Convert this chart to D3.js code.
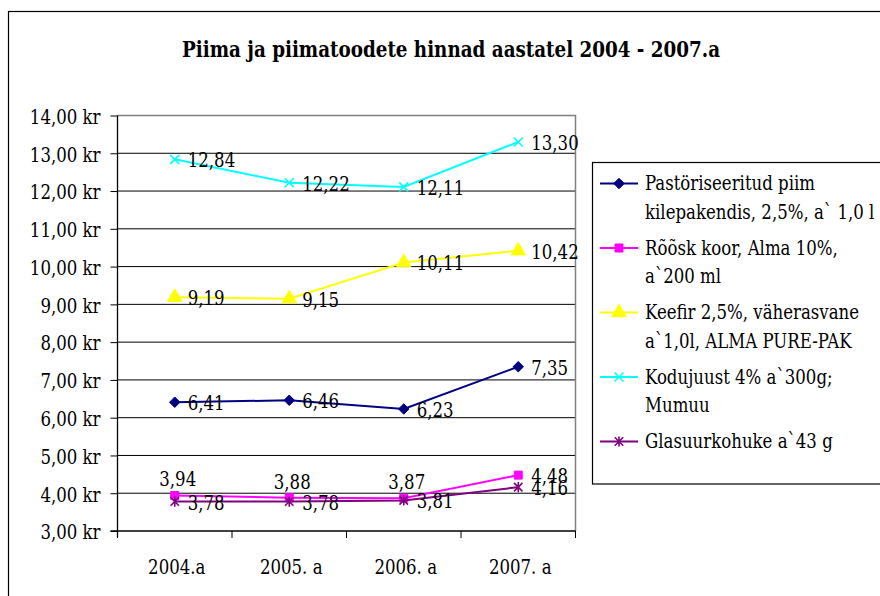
<!DOCTYPE html>
<html>
<head>
<meta charset="utf-8">
<script src="https://cdn.jsdelivr.net/npm/d3@7"></script>
<style>
  body { margin: 0; background: #fff; }
  svg { display: block; }
  svg text { font-family: "DejaVu Serif Condensed", "DejaVu Serif", serif; fill: #000; }
</style>
</head>
<body>
<div id="chart"></div>
<script>
// chart data
var years = ['2004.a', '2005. a', '2006. a', '2007. a'];
var yTicks = [3, 4, 5, 6, 7, 8, 9, 10, 11, 12, 13, 14];

var piim      = [6.41, 6.46, 6.23, 7.35];
var koor      = [3.94, 3.88, 3.87, 4.48];
var keefir    = [9.19, 9.15, 10.11, 10.42];
var kodujuust = [12.84, 12.22, 12.11, 13.30];
var kohuke    = [3.78, 3.78, 3.81, 4.16];

var seriesNames = [
  ['Pastöriseeritud piim', 'kilepakendis, 2,5%, a` 1,0 l'],
  ['Rõõsk koor, Alma 10%,', 'a`200 ml'],
  ['Keefir 2,5%, väherasvane', 'a`1,0l, ALMA PURE-PAK'],
  ['Kodujuust 4% a`300g;', 'Mumuu'],
  ['Glasuurkohuke a`43 g']
];
var seriesValues = [piim, koor, keefir, kodujuust, kohuke];
var seriesColors = ['#000080', '#FF00FF', '#FFFF00', '#00FFFF', '#800080'];
var seriesMarkers = ['diamond', 'square', 'triangle', 'x', 'star'];
// where excel put each data label
var labelPos = [
  ['right', 'right', 'right', 'right'],
  ['top', 'top', 'top', 'right'],
  ['right', 'right', 'right', 'right'],
  ['right', 'right', 'right', 'right'],
  ['right', 'right', 'right', 'right']
];

var W = 880, H = 596, FS = 21;
var plotLeft = 117.5, plotRight = 575.5, plotTop = 115.5, plotBottom = 531;

var svg = d3.select('#chart').append('svg:svg')
    .attr('width', W).attr('height', H);

// the original uses Times; squeeze the available serif to its width
var probe = svg.append('text').attr('font-size', FS).text('Pastöriseeritud piim');
var squeeze = 170 / probe.node().getComputedTextLength();
probe.remove();
var fit = function(t) {
  var n = t.node();
  t.attr('textLength', n.getComputedTextLength() * squeeze)
   .attr('lengthAdjust', 'spacingAndGlyphs');
};

// outer chart frame (right and bottom run off the picture)
svg.append('rect').attr('x', 8.5).attr('y', 11.5)
    .attr('width', 1000).attr('height', 1000)
    .attr('fill', '#fff').attr('stroke', '#000').attr('stroke-width', 1.2);

svg.append('text').attr('x', 451).attr('y', 57)
    .attr('text-anchor', 'middle')
    .attr('font-size', 23).attr('font-weight', 'bold')
    .attr('textLength', 538).attr('lengthAdjust', 'spacingAndGlyphs')
    .text('Piima ja piimatoodete hinnad aastatel 2004 - 2007.a');

var y = d3.scaleLinear().domain([3, 14]).range([plotBottom, plotTop]);
var x = d3.scaleBand().domain(years).range([plotLeft, plotRight]);
var xc = function(d) { return x(d) + x.bandwidth() / 2; };

// gridlines
svg.append('g').selectAll('line').data(yTicks.slice(1, -1)).enter()
    .append('line')
    .attr('x1', plotLeft).attr('x2', plotRight)
    .attr('y1', function(d) { return y(d); }).attr('y2', function(d) { return y(d); })
    .attr('stroke', '#000').attr('stroke-width', 1);

// plot area top and right border
svg.append('path')
    .attr('d', 'M' + plotLeft + ',' + plotTop + 'H' + plotRight + 'V' + plotBottom)
    .attr('fill', 'none').attr('stroke', '#808080').attr('stroke-width', 1.5);

// y axis
var yAxis = d3.axisLeft(y).tickValues(yTicks).tickSize(7).tickPadding(10)
    .tickFormat(function(d) { return d.toFixed(2).replace('.', ',') + ' kr'; });
var gy = svg.append('g').attr('transform', 'translate(' + plotLeft + ',0)').call(yAxis);
gy.select('.domain').attr('d', 'M0,' + plotTop + 'V' + (plotBottom + 6)).attr('stroke', '#000').attr('stroke-width', 1.3);
gy.selectAll('.tick line').attr('stroke', '#000');
gy.selectAll('.tick text').attr('font-size', FS).attr('dy', '0.37em')
    .each(function() { fit(d3.select(this)); });

// x axis: ticks between categories, labels centered
var gx = svg.append('g');
gx.append('line').attr('x1', plotLeft - 7).attr('x2', plotRight)
    .attr('y1', plotBottom).attr('y2', plotBottom)
    .attr('stroke', '#000').attr('stroke-width', 1.3);
var bounds = years.map(function(d) { return x(d); }).concat([plotRight]);
gx.selectAll('line.tk').data(bounds).enter().append('line').attr('class', 'tk')
    .attr('x1', function(d) { return d; }).attr('x2', function(d) { return d; })
    .attr('y1', plotBottom).attr('y2', plotBottom + 7)
    .attr('stroke', '#000');
gx.selectAll('text').data(years).enter().append('text')
    .attr('x', function(d) { return xc(d) + 2; }).attr('y', plotBottom + 43)
    .attr('text-anchor', 'middle').attr('font-size', FS)
    .text(function(d) { return d; })
    .each(function() { fit(d3.select(this)); });

// marker shapes
var starType = {
  draw: function(ctx, size) {
    var r = Math.sqrt(size) / 2;
    ctx.moveTo(-r, -r); ctx.lineTo(r, r);
    ctx.moveTo(r, -r); ctx.lineTo(-r, r);
    ctx.moveTo(0, -r * 1.2); ctx.lineTo(0, r * 1.2);
  }
};
var xType = {
  draw: function(ctx, size) {
    var r = Math.sqrt(size) / 2;
    ctx.moveTo(-r, -r); ctx.lineTo(r, r);
    ctx.moveTo(r, -r); ctx.lineTo(-r, r);
  }
};
var diamondType = {
  draw: function(ctx, size) {
    var r = Math.sqrt(size) / 2;
    ctx.moveTo(0, -r); ctx.lineTo(r, 0); ctx.lineTo(0, r); ctx.lineTo(-r, 0);
    ctx.closePath();
  }
};
var markerPath = function(kind) {
  if (kind == 'diamond') return d3.symbol(diamondType, 110)();
  if (kind == 'square') return d3.symbol(d3.symbolSquare, 64)();
  if (kind == 'triangle') return d3.symbol(d3.symbolTriangle, 90)();
  if (kind == 'x') return d3.symbol(xType, 81)();
  return d3.symbol(starType, 72)();
};
var drawMarker = function(g, kind, color, cx, cy) {
  var filled = (kind == 'diamond' || kind == 'square' || kind == 'triangle');
  g.append('path').attr('d', markerPath(kind))
      .attr('transform', 'translate(' + cx + ',' + cy + ')')
      .attr('fill', filled ? color : 'none')
      .attr('stroke', color).attr('stroke-width', filled ? 1 : 1.6);
};

// series lines and markers
var line = d3.line()
    .x(function(d, i) { return xc(years[i]); })
    .y(function(d) { return y(d); });

seriesValues.forEach(function(vals, s) {
  var g = svg.append('g');
  g.append('path').datum(vals).attr('d', line)
      .attr('fill', 'none').attr('stroke', seriesColors[s]).attr('stroke-width', 2);
  vals.forEach(function(v, i) {
    drawMarker(g, seriesMarkers[s], seriesColors[s], xc(years[i]), y(v));
  });
});

// data labels
seriesValues.forEach(function(vals, s) {
  vals.forEach(function(v, i) {
    var px = xc(years[i]), py = y(v);
    var t = svg.append('text').attr('font-size', FS)
        .text(v.toFixed(2).replace('.', ','));
    if (labelPos[s][i] == 'top') {
      t.attr('x', px + 3).attr('y', py - 9).attr('text-anchor', 'middle');
    } else {
      t.attr('x', px + 13).attr('y', py + 8);
    }
    fit(t);
  });
});

// legend
var lg = svg.append('g');
lg.append('rect').attr('x', 592.5).attr('y', 162.5)
    .attr('width', 400).attr('height', 321.5)
    .attr('fill', '#fff').attr('stroke', '#000').attr('stroke-width', 1.2);
var rowBase = 190, rowStep = 64.5, lineGap = 28.5;
seriesNames.forEach(function(lines, s) {
  var base = rowBase + s * rowStep;
  lg.append('line').attr('x1', 600).attr('x2', 638)
      .attr('y1', base - 6.5).attr('y2', base - 6.5)
      .attr('stroke', seriesColors[s]).attr('stroke-width', 2);
  drawMarker(lg, seriesMarkers[s], seriesColors[s], 619, base - 6.5);
  lines.forEach(function(txt, k) {
    var t = lg.append('text').attr('x', 645).attr('y', base + k * lineGap)
        .attr('font-size', FS).text(txt);
    fit(t);
  });
});
</script>
</body>
</html>
